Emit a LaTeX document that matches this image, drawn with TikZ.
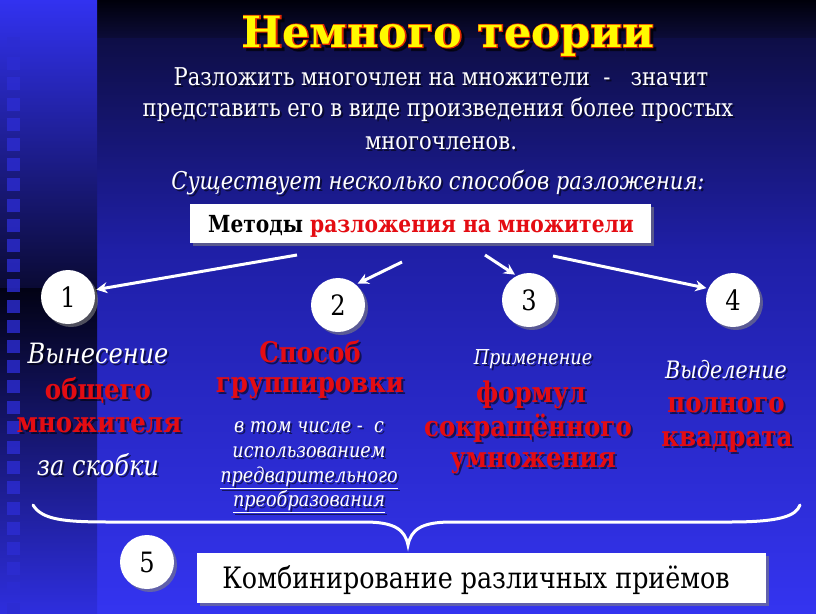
\documentclass[tikz,border=0pt]{standalone}
\usepackage{fontspec}
\setmainfont{DejaVu Serif}[FakeStretch=0.86]
\newfontfamily\titlefont{DejaVu Serif}
\newfontfamily\titleout{DejaVu Serif}[FakeBold=4]
\usetikzlibrary{arrows.meta,shadows}
\definecolor{redtxt}{RGB}{228,12,18}
\definecolor{ttlyel}{RGB}{255,250,0}
\definecolor{ttlred}{RGB}{225,40,0}
\definecolor{bgA}{RGB}{0,0,10}
\definecolor{bgB}{RGB}{12,12,56}
\definecolor{bgC}{RGB}{14,14,70}
\definecolor{bgD}{RGB}{31,31,166}
\definecolor{bgE}{RGB}{52,52,240}
\definecolor{stripA}{RGB}{50,50,240}
\definecolor{stripB}{RGB}{10,10,52}
\definecolor{stripC}{RGB}{2,2,20}
\definecolor{stripD}{RGB}{46,46,222}
\definecolor{sqcol}{RGB}{44,44,210}
\newcommand\shtxt[5]{%
  \node[#4, text=black, opacity=0.55] (#1s) at (#2+2,#3+2) {#5};
  \node[#4] (#1) at (#2,#3) {#5};}
\tikzset{
  wtxt/.style={text=white, inner sep=0pt},
  itw/.style={text=white, inner sep=0pt, font=\fontsize{28}{28}\itshape\selectfont},
  rbold/.style={text=redtxt, inner sep=0pt, font=\fontsize{28.5}{28.5}\bfseries\selectfont},
  smit/.style={text=white, inner sep=0pt, font=\fontsize{20.5}{20.5}\itshape\selectfont},
  numc/.style={circle, fill=white, minimum size=54pt, inner sep=0pt,
    drop shadow={shadow xshift=3pt, shadow yshift=-3pt, opacity=0.6},
    font=\fontsize{28}{28}\selectfont},
  wbox/.style={fill=white, inner sep=0pt,
    drop shadow={shadow xshift=3pt, shadow yshift=-3pt, opacity=0.6}},
  arr/.style={draw=white, line width=3pt, -{Stealth[length=11pt,width=11pt]}, shorten >=2pt},
  ttl/.style={inner sep=0pt, font=\fontsize{43}{43}\titlefont\bfseries\selectfont},
  ttlo/.style={inner sep=0pt, font=\fontsize{43}{43}\titleout\bfseries\selectfont}
}
\begin{document}
\begin{tikzpicture}[x=1pt,y=-1pt]
\useasboundingbox (0,0) rectangle (816,613);
% background
\shade[top color=bgA, bottom color=bgB] (97,0) rectangle (816,38);
\shade[top color=bgC, bottom color=bgD] (97,38) rectangle (816,250);
\shade[top color=bgD, bottom color=bgE] (97,250) rectangle (816,613);
\shade[top color=stripA, bottom color=stripB] (0,0) rectangle (97,288);
\shade[top color=stripC, bottom color=stripD] (0,288) rectangle (97,613);
\foreach \k in {0,...,28} {
  \fill[sqcol, opacity=0.8] (7,37+20.2*\k) rectangle (20,50+20.2*\k);
}
% title
\node[ttlo, text=black, opacity=0.6] (ttls) at (451,39) {Немного теории};
\node[ttlo, text=ttlred] (ttlr) at (448,36) {Немного теории};
\node[ttl, text=ttlyel] (ttl) at (448,36) {Немного теории};
% paragraph
\tikzset{para/.style={wtxt, font=\fontsize{24.5}{24.5}\selectfont}}
\shtxt{p1}{441}{77}{para}{Разложить многочлен на множители \ - \ \ значит}
\shtxt{p2}{438}{110}{para}{представить его в виде произведения более простых}
\shtxt{p3}{441}{143}{para}{многочленов.}
\shtxt{p4}{438}{183}{para, font=\fontsize{24.5}{24.5}\itshape\selectfont}{Существует несколько способов разложения:}
% methods box
\node[wbox, minimum width=461pt, minimum height=39pt] (mbox) at (420.5,223.5) {};
\node[inner sep=0pt, font=\fontsize{23.5}{23.5}\bfseries\selectfont] (mtxt) at (421,226)
  {Методы \textcolor{redtxt}{разложения на множители}};
% circles
\node[numc] (c1) at (68,297) {1};
\node[numc] (c2) at (338,305) {2};
\node[numc] (c3) at (529,300) {3};
\node[numc] (c4) at (733,300) {4};
\node[numc] (c5) at (147,562) {5};
% arrows
\coordinate (s1) at (297,255);
\coordinate (s2) at (402,262);
\coordinate (s3) at (485,255);
\coordinate (s4) at (553,256);
\draw[arr] (s1) -- (c1.15);
\draw[arr] (s2) -- (c2.49);
\draw[arr] (s3) -- (c3.117);
\draw[arr] (s4) -- (c4.155);
% column 1
\shtxt{a1}{98}{353}{itw}{Вынесение}
\shtxt{a2}{98}{390}{rbold}{общего}
\shtxt{a3}{99}{425}{rbold}{множителя}
\shtxt{a4}{98}{465}{itw}{за скобки}
% column 2
\shtxt{b1}{310}{352}{rbold}{Способ}
\shtxt{b2}{310}{388}{rbold}{группировки}
\shtxt{b3}{309}{427}{smit}{в том числе - \ с}
\shtxt{b4}{309}{452}{smit}{использованием}
\shtxt{b5}{309}{478}{smit}{\underline{предварительного}}
\shtxt{b6}{309}{502}{smit}{\underline{преобразования}}
% column 3
\shtxt{d1}{533}{359}{smit, font=\fontsize{20.5}{20.5}\itshape\selectfont}{Применение}
\shtxt{d2}{531}{395}{rbold}{формул}
\shtxt{d3}{528}{428}{rbold}{сокращённого}
\shtxt{d4}{533}{463}{rbold}{умножения}
% column 4
\shtxt{e1}{726}{370}{smit, font=\fontsize{24}{24}\itshape\selectfont}{Выделение}
\shtxt{e2}{726}{405}{rbold}{полного}
\shtxt{e3}{727}{442}{rbold}{квадрата}
% brace
\coordinate (brL) at (33,505);
\coordinate (brR) at (800,505);
\coordinate (brT) at (408,545);
\draw[white, line width=3pt, line cap=round]
  (brL) .. controls (42,520) and (65,522) .. (110,522) -- (365,522)
  .. controls (395,522) and (405,530) .. (brT)
  .. controls (411,530) and (421,522) .. (451,522) -- (730,522)
  .. controls (780,522) and (796,516) .. (brR);
% bottom box
\node[wbox, minimum width=569pt, minimum height=50pt] (bbox) at (481.5,578) {};
\node[inner sep=0pt, font=\fontsize{29.5}{29.5}\selectfont] (btxt) at (476,580) {Комбинирование различных приёмов};
\end{tikzpicture}
\end{document}
